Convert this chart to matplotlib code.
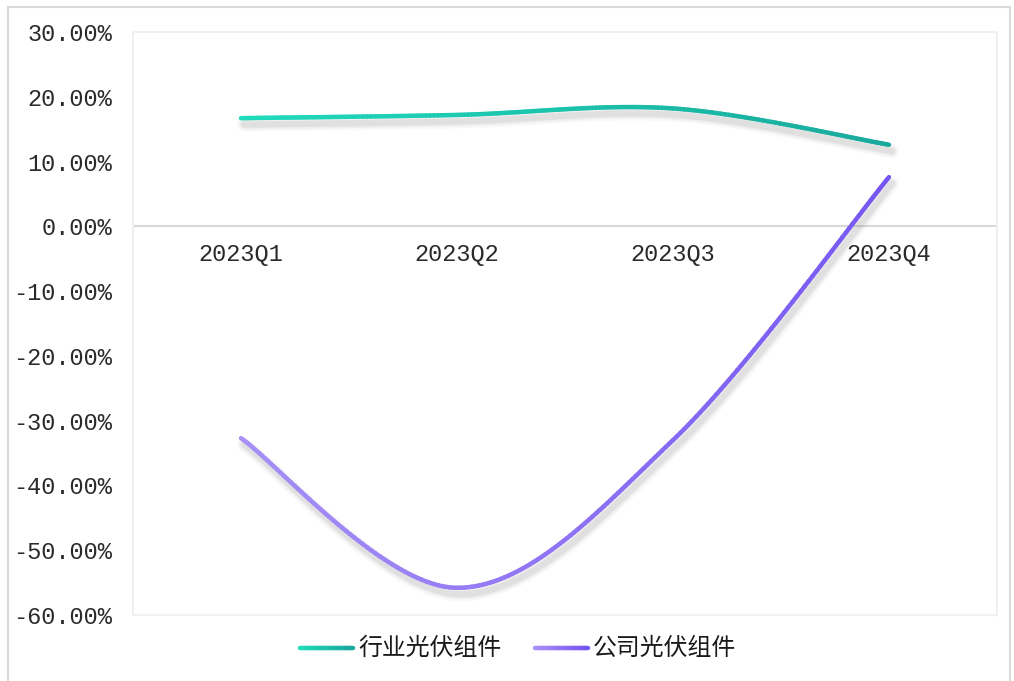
import numpy as np
import matplotlib
matplotlib.use("Agg")
from matplotlib import pyplot as plt
from matplotlib.collections import LineCollection
from matplotlib.colors import LinearSegmentedColormap
from matplotlib.patches import Rectangle

quarters = ["2023Q1", "2023Q2", "2023Q3", "2023Q4"]
industry = [16.7, 17.2, 18.2, 12.6]
company = [-32.7, -55.8, -33.0, 7.6]
names = ["行业光伏组件", "公司光伏组件"]


def smooth(xs, ys, n=60):
  # excel-style smoothed line: catmull-rom bezier segments
  p = np.column_stack([xs, ys]).astype(float)
  p = np.vstack([p[0], p, p[-1]])
  out = []
  for i in range(1, len(p) - 2):
    p0, p1, p2, p3 = p[i - 1], p[i], p[i + 1], p[i + 2]
    c1 = p1 + (p2 - p0) / 6
    c2 = p2 - (p3 - p1) / 6
    t = np.linspace(0, 1, n)[:, None]
    seg = (1 - t) ** 3 * p1 + 3 * (1 - t) ** 2 * t * c1 + 3 * (1 - t) * t ** 2 * c2 + t ** 3 * p2
    out.append(seg if i == 1 else seg[1:])
  return np.vstack(out)


fig = plt.figure(figsize=(10.14, 6.81), dpi=100)
fig.patches.append(Rectangle((8 / 1014, -0.01), 1 - 12 / 1014, 1 - 7 / 681 + 0.01,
                             transform=fig.transFigure, fill=False,
                             edgecolor="#d9d9d9", lw=1.5))
ax = fig.add_axes([133 / 1014, 1 - 615 / 681, 864 / 1014, 583 / 681])
ax.set_xlim(-0.5, 3.5)
ax.set_ylim(-60, 30)
for s in ax.spines.values():
  s.set_color("#f0f0f0")
  s.set_linewidth(1.5)
ax.axhline(0, color="#d9d9d9", lw=1.5, zorder=1)

mono = "Liberation Mono"
ax.set_yticks(np.arange(-60, 31, 10))
ax.set_yticklabels(["{:.2f}%".format(v) for v in np.arange(-60, 31, 10)],
                   fontfamily=mono, fontsize=17, color="#2a2a2a")
ax.tick_params(axis="y", length=0, pad=15)
ax.set_xticks([])
for i, q in enumerate(quarters):
  ax.annotate(q, (i, 0), xytext=(0, -20), textcoords="offset points",
              ha="center", va="center", fontfamily=mono, fontsize=17, color="#2a2a2a")

x = np.arange(len(quarters))
series = [
  (industry, ["#1fdcbc", "#19a89c"]),
  (company, ["#a891f7", "#7656f2"]),
]
for vals, cols in series:
  pts = smooth(x, vals)
  # soft shadow
  for w, a in [(10, 0.04), (7, 0.06), (4.5, 0.09)]:
    ax.plot(pts[:, 0] + 0.014, pts[:, 1] - 1.0, color="#555555", lw=w, alpha=a,
            solid_capstyle="round", zorder=2)
  segs = np.stack([pts[:-1], pts[1:]], axis=1)
  cmap = LinearSegmentedColormap.from_list("g", cols)
  lc = LineCollection(segs, cmap=cmap, linewidths=3.2, capstyle="round", zorder=3)
  lc.set_array(np.linspace(0, 1, len(segs)))
  ax.add_collection(lc)

# legend
for j, (vals, cols) in enumerate(series):
  x0 = 300 / 1014 + j * 235 / 1014
  y0 = 1 - 648 / 681
  n = 20
  xs = np.linspace(x0, x0 + 53 / 1014, n)
  segs = np.stack([np.column_stack([xs[:-1], [y0] * (n - 1)]),
                   np.column_stack([xs[1:], [y0] * (n - 1)])], axis=1)
  lc = LineCollection(segs, cmap=LinearSegmentedColormap.from_list("g", cols),
                      linewidths=3.2, capstyle="round", transform=fig.transFigure)
  lc.set_array(np.linspace(0, 1, n - 1))
  fig.add_artist(lc)
  fig.text(x0 + 58 / 1014, y0, names[j], fontfamily=["Noto Sans CJK SC", "DejaVu Sans"],
           fontsize=17.2, va="center", ha="left", color="#1a1a1a")

fig.savefig("out.png", dpi=100)
